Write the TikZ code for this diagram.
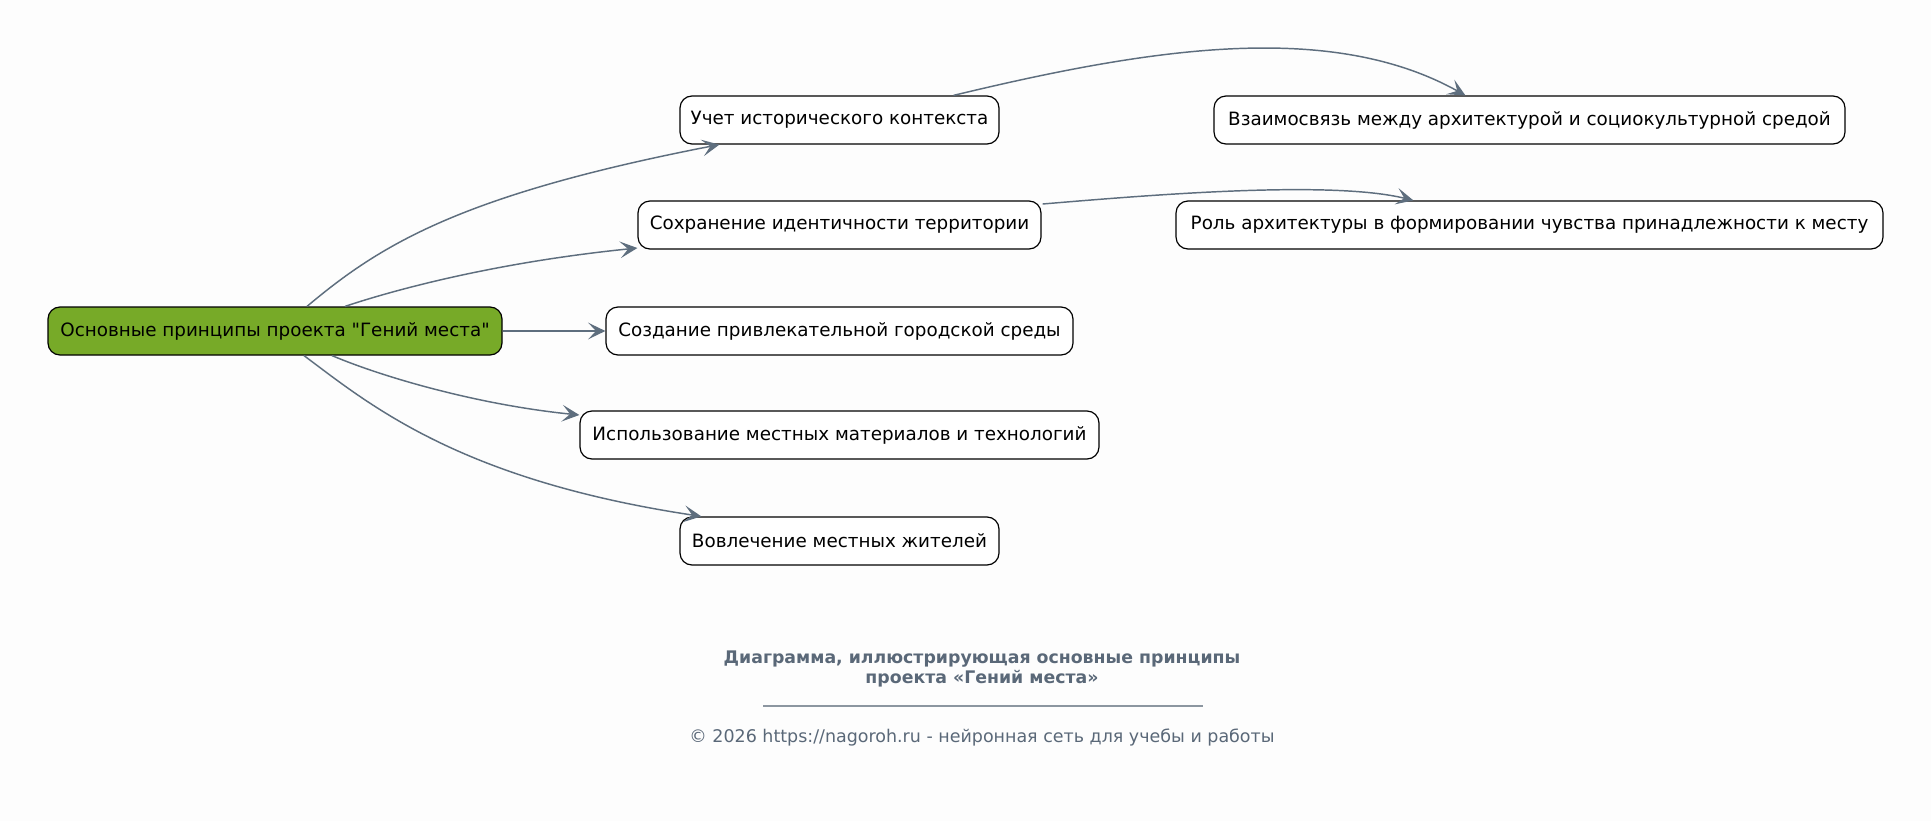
\documentclass[tikz,border=0pt]{standalone}
\usepackage{fontspec}
\setmainfont{DejaVu Sans}[Ligatures=TeXOff]
\usetikzlibrary{arrows.meta,calc}
\definecolor{bg}{RGB}{253,253,253}
\definecolor{rootgreen}{RGB}{119,170,40}
\definecolor{edgecol}{RGB}{94,110,126}
\definecolor{titlecol}{RGB}{90,104,120}
\definecolor{rulecol}{RGB}{140,150,160}
\tikzset{
  box/.style={draw=black, line width=0.9pt, rounded corners=9pt, fill=white,
    minimum height=36pt, inner xsep=0pt, inner ysep=0pt, font=\fontsize{13.75}{16}\selectfont, text=black},
  rootbox/.style={box, fill=rootgreen},
  conn/.style={draw=edgecol, line width=1.1pt, -{Stealth[length=13pt,width=12.5pt,inset=6pt]}},
}
\begin{document}
\begin{tikzpicture}[x=0.75pt,y=-0.75pt]
\fill[bg] (0,0) rectangle (1931,821);
\useasboundingbox (0,0) rectangle (1931,821);
\node[rootbox, minimum width={454*0.75pt}] (root) at (275,331) {Основные принципы проекта \symbol{34}Гений места\symbol{34}};
\node[box, minimum width={319*0.75pt}] (uchet) at (839.5,120) {Учет исторического контекста};
\node[box, minimum width={403*0.75pt}] (sohr) at (839.5,225) {Сохранение идентичности территории};
\node[box, minimum width={467*0.75pt}] (sozd) at (839.5,331) {Создание привлекательной городской среды};
\node[box, minimum width={519*0.75pt}] (isp) at (839.5,435) {Использование местных материалов и технологий};
\node[box, minimum width={319*0.75pt}] (vovl) at (839.5,541) {Вовлечение местных жителей};
\node[box, minimum width={631*0.75pt}] (vzaim) at (1529.5,120) {Взаимосвязь между архитектурой и социокультурной средой};
\node[box, minimum width={707*0.75pt}] (rol) at (1529.5,225) {Роль архитектуры в формировании чувства принадлежности к месту};

\coordinate (a1) at ($(root.north)+(32,0)$);
\coordinate (b1) at ($(uchet.south west)+(40,0)$);
\draw[conn] (a1) .. controls (380,245) and (460,195) .. (b1);

\coordinate (a2) at ($(root.north)+(70,0)$);
\coordinate (b2) at ($(sohr.west)+(0,23)$);
\draw[conn] (a2) .. controls (400,288) and (500,262) .. (b2);

\draw[conn] (root.east) -- (sozd.west);

\coordinate (a4) at ($(root.south)+(57,0)$);
\coordinate (b4) at ($(isp.west)+(0,-20)$);
\draw[conn] (a4) .. controls (385,378) and (480,405) .. (b4);

\coordinate (a5) at ($(root.south)+(29,0)$);
\coordinate (b5) at ($(vovl.north west)+(22,0)$);
\draw[conn] (a5) .. controls (370,405) and (460,480) .. (b5);

\coordinate (a6) at ($(uchet.north)+(114,0)$);
\coordinate (b6) at ($(vzaim.north west)+(252,0)$);
\draw[conn] (a6) .. controls (1150,48) and (1330,20) .. (b6);

\coordinate (a7) at ($(sohr.east)+(1,-21)$);
\coordinate (b7) at ($(rol.north west)+(238,0)$);
\draw[conn] (a7) .. controls (1150,195) and (1330,180) .. (b7);

\node[font=\bfseries\fontsize{13}{15}\selectfont, text=titlecol, align=center] (title) at (982,669) {Диаграмма, иллюстрирующая основные принципы\\проекта «Гений места»};
\draw[rulecol, line width=0.8pt] (763,706) -- (1203,706);
\node[font=\fontsize{13.1}{15}\selectfont, text=titlecol] (copy) at (982,738) {© 2026 https://nagoroh.ru - нейронная сеть для учебы и работы};
\end{tikzpicture}
\end{document}
